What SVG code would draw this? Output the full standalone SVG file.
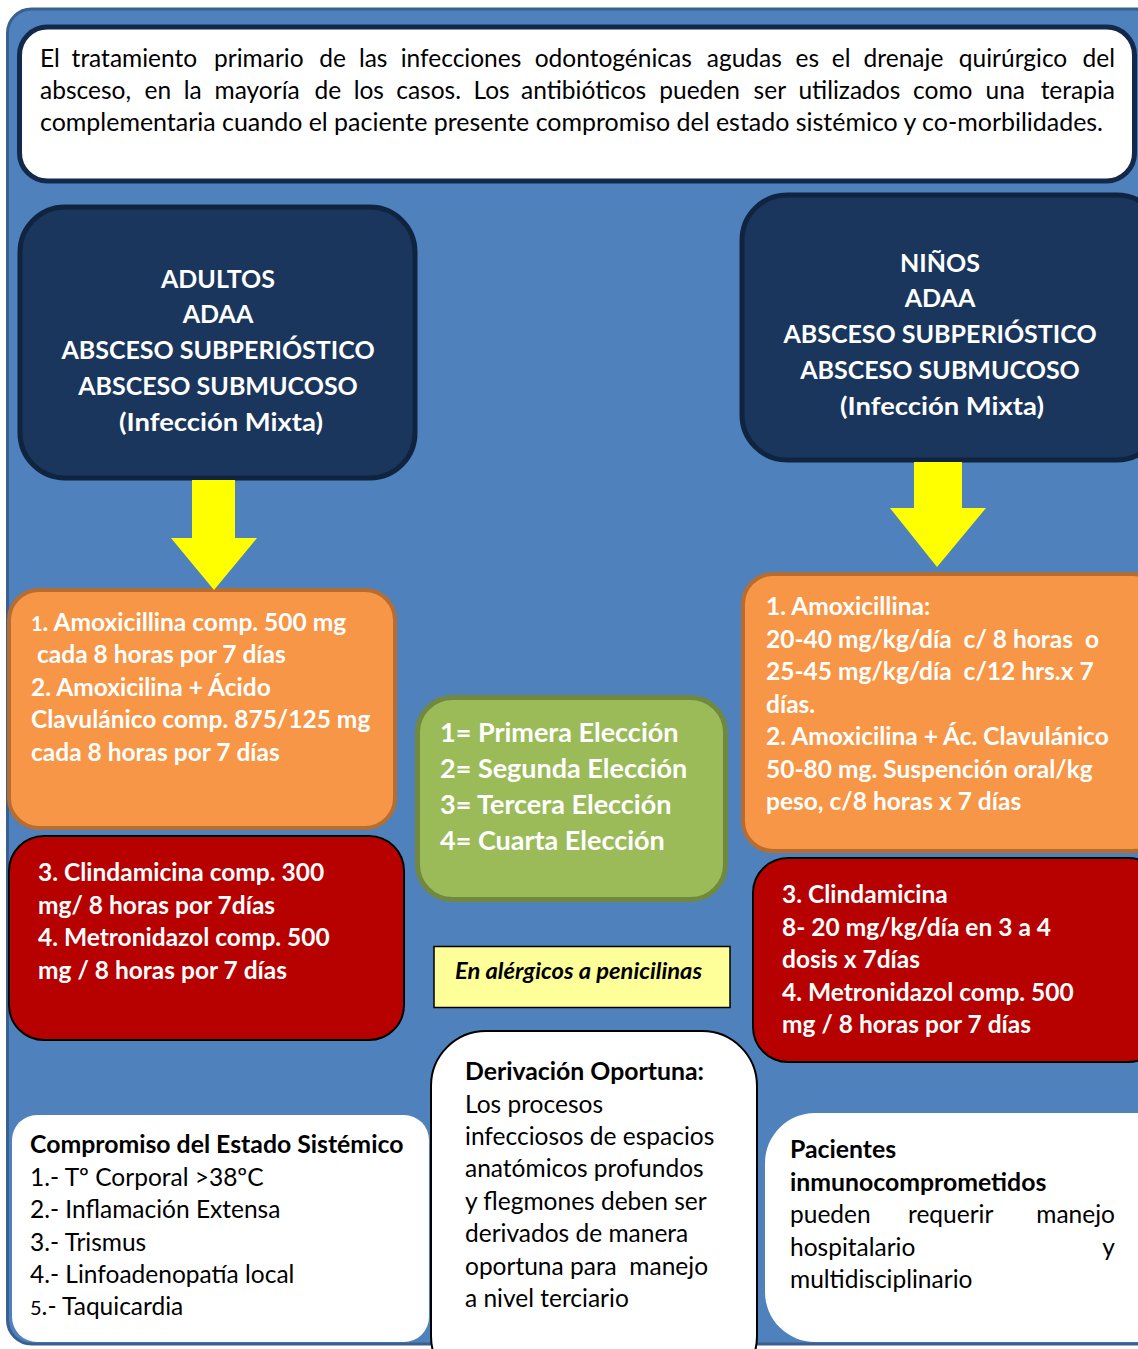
<svg xmlns="http://www.w3.org/2000/svg" width="1138" height="1349" viewBox="0 0 1138 1349">
  <defs>
    <style>
      text { font-family: Lato, "Liberation Sans", sans-serif; }
      .hdr { fill: #fff; font-weight: bold; font-size: 25px; text-anchor: middle; }
      .wb { fill: #fff; font-weight: bold; font-size: 24.5px; }
      .legend { fill: #fff; font-weight: bold; font-size: 27px; }
      .kb { fill: #000; font-weight: bold; font-size: 24.8px; }
      .kr { fill: #000; font-size: 24.5px; }
      .intro { fill: #000; font-size: 24.5px; }
      .navy { fill: #1a365d; stroke: #10243f; stroke-width: 5; }
      .orange { fill: #f79646; stroke: #b66d31; stroke-width: 4; }
      .red { fill: #b70000; stroke: #000; stroke-width: 2; }
      .arrow { fill: #ffff00; }
    </style>
  </defs>

  <!-- panel background -->
  <rect x="7.5" y="9" width="1160" height="1335" rx="24" fill="#4f81bd" stroke="#3a6090" stroke-width="3"/>

  <!-- introduction -->
  <g id="intro">
    <rect x="19.5" y="27" width="1115" height="154" rx="28" fill="#fff" stroke="#13294b" stroke-width="5"/>
    <text class="intro" y="67">
      <tspan x="40">El</tspan><tspan x="71.6">tratamiento</tspan><tspan x="214.1">primario</tspan><tspan x="319.2">de</tspan><tspan x="358.9">las</tspan><tspan x="400.7">infecciones</tspan><tspan x="534.7">odontogénicas</tspan><tspan x="706.8">agudas</tspan><tspan x="795.6">es</tspan><tspan x="831.8">el</tspan><tspan x="863.6">drenaje</tspan><tspan x="958.8">quirúrgico</tspan>
    </text>
    <text class="intro" x="1115" y="67" text-anchor="end">del</text>
    <text class="intro" y="99">
      <tspan x="40">absceso,</tspan><tspan x="144.6">en</tspan><tspan x="183.7">la</tspan><tspan x="214.5">mayoría</tspan><tspan x="314.5">de</tspan><tspan x="353.7">los</tspan><tspan x="396.2">casos.</tspan><tspan x="473.5">Los</tspan><tspan x="521.1">antibióticos</tspan><tspan x="659.3">pueden</tspan><tspan x="753.6">ser</tspan><tspan x="798.4">utilizados</tspan><tspan x="913.1">como</tspan><tspan x="985.5">una</tspan>
    </text>
    <text class="intro" x="1115" y="99" text-anchor="end">terapia</text>
    <text class="intro" x="40" y="131" textLength="1063" lengthAdjust="spacingAndGlyphs">complementaria cuando el paciente presente compromiso del estado sistémico y co-morbilidades.</text>
  </g>

  <!-- patient groups -->
  <g id="adultos">
    <rect class="navy" x="20" y="207" width="395" height="271" rx="45"/>
    <text class="hdr" x="218" y="288" font-size="21">ADULTOS</text>
    <text class="hdr" x="218" y="323">ADAA</text>
    <text class="hdr" x="218" y="359">ABSCESO SUBPERIÓSTICO</text>
    <text class="hdr" x="218" y="395">ABSCESO SUBMUCOSO</text>
    <text class="hdr" x="221" y="431" font-size="26" textLength="204" lengthAdjust="spacingAndGlyphs">(Infección Mixta)</text>
  </g>

  <g id="ninos">
    <rect class="navy" x="742" y="195" width="420" height="265" rx="45"/>
    <text class="hdr" x="940" y="272" font-size="21">NIÑOS</text>
    <text class="hdr" x="940" y="307">ADAA</text>
    <text class="hdr" x="940" y="343">ABSCESO SUBPERIÓSTICO</text>
    <text class="hdr" x="940" y="379">ABSCESO SUBMUCOSO</text>
    <text class="hdr" x="942" y="415" font-size="26" textLength="204" lengthAdjust="spacingAndGlyphs">(Infección Mixta)</text>
  </g>

  <!-- first/second choice -->
  <g id="adultos-eleccion-1-2">
    <rect class="orange" x="9" y="590" width="386" height="238" rx="30"/>
    <text class="wb">
      <tspan x="31" y="631"><tspan font-size="20">1</tspan>. Amoxicillina comp. 500 mg</tspan>
      <tspan x="37" y="663">cada 8 horas por 7 días</tspan>
      <tspan x="31" y="696">2. Amoxicilina + Ácido</tspan>
      <tspan x="31" y="728">Clavulánico comp. 875/125 mg</tspan>
      <tspan x="31" y="761">cada 8 horas por 7 días</tspan>
    </text>
  </g>

  <g id="ninos-eleccion-1-2">
    <rect class="orange" x="743" y="574" width="420" height="277" rx="30"/>
    <text class="wb" xml:space="preserve"><tspan x="766" y="615">1. Amoxicillina:</tspan><tspan x="766" y="648">20-40 mg/kg/día  c/ 8 horas  o</tspan><tspan x="766" y="680">25-45 mg/kg/día  c/12 hrs.x 7</tspan><tspan x="766" y="713">días.</tspan><tspan x="766" y="745">2. Amoxicilina + Ác. Clavulánico</tspan><tspan x="766" y="778">50-80 mg. Suspención oral/kg</tspan><tspan x="766" y="810">peso, c/8 horas x 7 días</tspan></text>
  </g>

  <!-- third/fourth choice -->
  <g id="adultos-eleccion-3-4">
    <rect class="red" x="9" y="836" width="395" height="204" rx="35"/>
    <text class="wb">
      <tspan x="38" y="881">3. Clindamicina comp. 300</tspan>
      <tspan x="38" y="914">mg/ 8 horas por 7días</tspan>
      <tspan x="38" y="946">4. Metronidazol comp. 500</tspan>
      <tspan x="38" y="979">mg / 8 horas por 7 días</tspan>
    </text>
  </g>

  <g id="ninos-eleccion-3-4">
    <rect class="red" x="753" y="858" width="410" height="204" rx="35"/>
    <text class="wb">
      <tspan x="782" y="903">3. Clindamicina</tspan>
      <tspan x="782" y="936">8- 20 mg/kg/día en 3 a 4</tspan>
      <tspan x="782" y="968">dosis x 7días</tspan>
      <tspan x="782" y="1001">4. Metronidazol comp. 500</tspan>
      <tspan x="782" y="1033">mg / 8 horas por 7 días</tspan>
    </text>
  </g>

  <!-- legend -->
  <g id="leyenda">
    <rect x="417.5" y="697.5" width="308" height="202" rx="35" fill="#9bbb59" stroke="#71893f" stroke-width="5"/>
    <text class="legend">
      <tspan x="440" y="742">1= Primera Elección</tspan>
      <tspan x="440" y="778">2= Segunda Elección</tspan>
      <tspan x="440" y="814">3= Tercera Elección</tspan>
      <tspan x="440" y="850">4= Cuarta Elección</tspan>
    </text>
  </g>

  <g id="alergicos">
    <rect x="434" y="946.5" width="296" height="61" fill="#ffff99" stroke="#000" stroke-width="1.5"/>
    <text x="455" y="979" fill="#000" font-size="22" font-weight="bold" font-style="italic" textLength="247" lengthAdjust="spacingAndGlyphs">En alérgicos a penicilinas</text>
  </g>

  <!-- notes -->
  <g id="estado-sistemico">
    <rect x="12" y="1115" width="417" height="227" rx="25" fill="#fff"/>
    <text class="kb" x="30" y="1153">Compromiso del Estado Sistémico</text>
    <text class="kr">
      <tspan x="30" y="1186">1.- Tº Corporal &gt;38ºC</tspan>
      <tspan x="30" y="1218">2.- Inflamación Extensa</tspan>
      <tspan x="30" y="1251">3.- Trismus</tspan>
      <tspan x="30" y="1283">4.- Linfoadenopatía local</tspan>
      <tspan x="30" y="1315"><tspan font-size="20">5</tspan>.- Taquicardia</tspan>
    </text>
  </g>

  <g id="derivacion">
    <rect x="431" y="1031" width="326" height="360" rx="55" fill="#fff" stroke="#000" stroke-width="2"/>
    <text class="kb" x="465" y="1080">Derivación Oportuna:</text>
    <text class="kr" xml:space="preserve"><tspan x="465" y="1113">Los procesos</tspan><tspan x="465" y="1145">infecciosos de espacios</tspan><tspan x="465" y="1177">anatómicos profundos</tspan><tspan x="465" y="1210">y flegmones deben ser</tspan><tspan x="465" y="1242">derivados de manera</tspan><tspan x="465" y="1275">oportuna para  manejo</tspan><tspan x="465" y="1307">a nivel terciario</tspan></text>
  </g>

  <g id="inmunocomprometidos">
    <rect x="765" y="1113" width="420" height="229" rx="50" fill="#fff"/>
    <text class="kb" font-size="25.2">
      <tspan x="790" y="1158">Pacientes</tspan>
      <tspan x="790" y="1191">inmunocomprometidos</tspan>
    </text>
    <text class="kr" x="790" y="1223">pueden</text>
    <text class="kr" x="908" y="1223">requerir</text>
    <text class="kr" x="1115" y="1223" text-anchor="end">manejo</text>
    <text class="kr" x="790" y="1256">hospitalario</text>
    <text class="kr" x="1115" y="1256" text-anchor="end">y</text>
    <text class="kr" x="790" y="1288">multidisciplinario</text>
  </g>

  <!-- flow arrows -->
  <g id="connectors">
    <polygon class="arrow" points="192,480 235,480 235,538 257,538 214,590 171,538 192,538"/>
    <polygon class="arrow" points="914,462 962,462 962,508 986,508 937,567 890,508 914,508"/>
  </g>
</svg>
